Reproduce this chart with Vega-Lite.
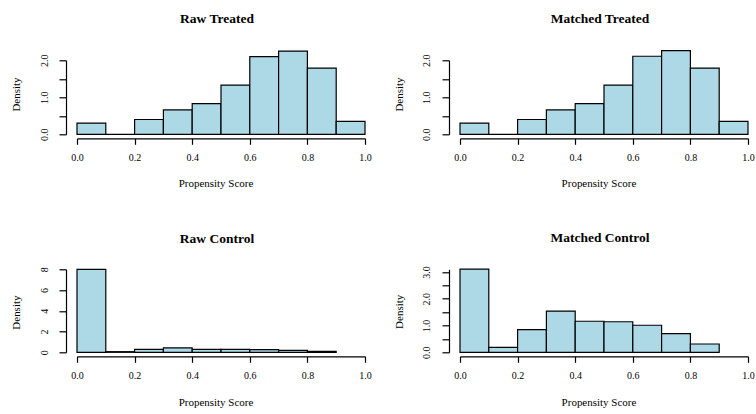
{
  "$schema": "https://vega.github.io/schema/vega-lite/v6.json",
  "background": "white",
  "padding": {"left": 10, "top": 11.3, "right": 5, "bottom": 5},
  "bounds": "flush",
  "spacing": {"row": 135, "column": 95},
  "columns": 2,
  "config": {
    "view": {"stroke": null},
    "font": "Liberation Serif",
    "axis": {
      "domainColor": "black", "tickColor": "black", "labelColor": "black", "titleColor": "black",
      "labelFont": "Liberation Serif", "titleFont": "Liberation Serif",
      "labelFontSize": 10, "titleFontSize": 11, "titleFontWeight": "normal",
      "grid": false, "labelOverlap": false, "labelFlush": false,
      "domainWidth": 1.2, "tickWidth": 1.2
    },
    "title": {"font": "Liberation Serif", "fontSize": 13.5, "fontWeight": "bold", "color": "black", "dx": -4},
    "rect": {"fill": "#ADD8E6", "stroke": "black", "strokeWidth": 1.2}
  },
  "datasets": {
    "rawTreated": [
      {"bin_start": 0.0, "bin_end": 0.1, "density": 0.30},
      {"bin_start": 0.1, "bin_end": 0.2, "density": 0.0},
      {"bin_start": 0.2, "bin_end": 0.3, "density": 0.40},
      {"bin_start": 0.3, "bin_end": 0.4, "density": 0.66},
      {"bin_start": 0.4, "bin_end": 0.5, "density": 0.83},
      {"bin_start": 0.5, "bin_end": 0.6, "density": 1.33},
      {"bin_start": 0.6, "bin_end": 0.7, "density": 2.10},
      {"bin_start": 0.7, "bin_end": 0.8, "density": 2.25},
      {"bin_start": 0.8, "bin_end": 0.9, "density": 1.79},
      {"bin_start": 0.9, "bin_end": 1.0, "density": 0.35}
    ],
    "matchedTreated": [
      {"bin_start": 0.0, "bin_end": 0.1, "density": 0.30},
      {"bin_start": 0.1, "bin_end": 0.2, "density": 0.0},
      {"bin_start": 0.2, "bin_end": 0.3, "density": 0.40},
      {"bin_start": 0.3, "bin_end": 0.4, "density": 0.66},
      {"bin_start": 0.4, "bin_end": 0.5, "density": 0.83},
      {"bin_start": 0.5, "bin_end": 0.6, "density": 1.33},
      {"bin_start": 0.6, "bin_end": 0.7, "density": 2.11},
      {"bin_start": 0.7, "bin_end": 0.8, "density": 2.26},
      {"bin_start": 0.8, "bin_end": 0.9, "density": 1.79},
      {"bin_start": 0.9, "bin_end": 1.0, "density": 0.35}
    ],
    "rawControl": [
      {"bin_start": 0.0, "bin_end": 0.1, "density": 8.0},
      {"bin_start": 0.1, "bin_end": 0.2, "density": 0.06},
      {"bin_start": 0.2, "bin_end": 0.3, "density": 0.29},
      {"bin_start": 0.3, "bin_end": 0.4, "density": 0.42},
      {"bin_start": 0.4, "bin_end": 0.5, "density": 0.29},
      {"bin_start": 0.5, "bin_end": 0.6, "density": 0.29},
      {"bin_start": 0.6, "bin_end": 0.7, "density": 0.26},
      {"bin_start": 0.7, "bin_end": 0.8, "density": 0.19},
      {"bin_start": 0.8, "bin_end": 0.9, "density": 0.08}
    ],
    "matchedControl": [
      {"bin_start": 0.0, "bin_end": 0.1, "density": 3.11},
      {"bin_start": 0.1, "bin_end": 0.2, "density": 0.185},
      {"bin_start": 0.2, "bin_end": 0.3, "density": 0.85},
      {"bin_start": 0.3, "bin_end": 0.4, "density": 1.54},
      {"bin_start": 0.4, "bin_end": 0.5, "density": 1.16},
      {"bin_start": 0.5, "bin_end": 0.6, "density": 1.14},
      {"bin_start": 0.6, "bin_end": 0.7, "density": 1.01},
      {"bin_start": 0.7, "bin_end": 0.8, "density": 0.70},
      {"bin_start": 0.8, "bin_end": 0.9, "density": 0.31}
    ]
  },
  "concat": [
    {
      "data": {"name": "rawTreated"},
      "title": {"text": "Raw Treated", "offset": 25},
      "width": 288, "height": 74,
      "mark": "rect",
      "encoding": {
        "x": {"field": "bin_start", "type": "quantitative", "scale": {"domain": [0, 1], "nice": false, "zero": false},
              "axis": {"title": "Propensity Score", "offset": 4, "tickSize": 6, "labelPadding": 8, "values": [0, 0.2, 0.4, 0.6, 0.8, 1], "format": ".1f", "titleX": 138.5, "titleY": 45, "titleBaseline": "middle", "titleAlign": "center"}},
        "x2": {"field": "bin_end"},
        "y": {"field": "density", "type": "quantitative", "scale": {"domain": [0, 2], "nice": false},
              "axis": {"title": "Density", "offset": 11, "tickSize": 7, "labelAngle": 270, "labelAlign": "center", "labelBaseline": "alphabetic", "labelPadding": 12, "titleX": -49.3, "titleY": 33.7, "titleBaseline": "middle", "titleAngle": 270, "titleAlign": "center", "values": [0, 0.5, 1, 1.5, 2], "labelExpr": "datum.value % 1 == 0 ? format(datum.value, '.1f') : ''"}},
        "y2": {"datum": 0}
      }
    },
    {
      "data": {"name": "matchedTreated"},
      "title": {"text": "Matched Treated", "offset": 25},
      "width": 288, "height": 74,
      "mark": "rect",
      "encoding": {
        "x": {"field": "bin_start", "type": "quantitative", "scale": {"domain": [0, 1], "nice": false, "zero": false},
              "axis": {"title": "Propensity Score", "offset": 4, "tickSize": 6, "labelPadding": 8, "values": [0, 0.2, 0.4, 0.6, 0.8, 1], "format": ".1f", "titleX": 138.5, "titleY": 45, "titleBaseline": "middle", "titleAlign": "center"}},
        "x2": {"field": "bin_end"},
        "y": {"field": "density", "type": "quantitative", "scale": {"domain": [0, 2], "nice": false},
              "axis": {"title": "Density", "offset": 11, "tickSize": 7, "labelAngle": 270, "labelAlign": "center", "labelBaseline": "alphabetic", "labelPadding": 12, "titleX": -49.3, "titleY": 33.7, "titleBaseline": "middle", "titleAngle": 270, "titleAlign": "center", "values": [0, 0.5, 1, 1.5, 2], "labelExpr": "datum.value % 1 == 0 ? format(datum.value, '.1f') : ''"}},
        "y2": {"datum": 0}
      }
    },
    {
      "data": {"name": "rawControl"},
      "title": {"text": "Raw Control", "offset": 21.7},
      "width": 288, "height": 83,
      "mark": "rect",
      "encoding": {
        "x": {"field": "bin_start", "type": "quantitative", "scale": {"domain": [0, 1], "nice": false, "zero": false},
              "axis": {"title": "Propensity Score", "offset": 4, "tickSize": 6, "labelPadding": 8, "values": [0, 0.2, 0.4, 0.6, 0.8, 1], "format": ".1f", "titleX": 138.5, "titleY": 46, "titleBaseline": "middle", "titleAlign": "center"}},
        "x2": {"field": "bin_end"},
        "y": {"field": "density", "type": "quantitative", "scale": {"domain": [0, 8], "nice": false},
              "axis": {"title": "Density", "offset": 11, "tickSize": 7, "labelAngle": 270, "labelAlign": "center", "labelBaseline": "alphabetic", "labelPadding": 12, "titleX": -49.3, "titleY": 42.8, "titleBaseline": "middle", "titleAngle": 270, "titleAlign": "center", "values": [0, 2, 4, 6, 8], "format": "d"}},
        "y2": {"datum": 0}
      }
    },
    {
      "data": {"name": "matchedControl"},
      "title": {"text": "Matched Control", "offset": 21.7},
      "width": 288, "height": 83,
      "mark": "rect",
      "encoding": {
        "x": {"field": "bin_start", "type": "quantitative", "scale": {"domain": [0, 1], "nice": false, "zero": false},
              "axis": {"title": "Propensity Score", "offset": 4, "tickSize": 6, "labelPadding": 8, "values": [0, 0.2, 0.4, 0.6, 0.8, 1], "format": ".1f", "titleX": 138.5, "titleY": 46, "titleBaseline": "middle", "titleAlign": "center"}},
        "x2": {"field": "bin_end"},
        "y": {"field": "density", "type": "quantitative", "scale": {"domain": [0, 3.1], "nice": false},
              "axis": {"title": "Density", "offset": 11, "tickSize": 7, "labelAngle": 270, "labelAlign": "center", "labelBaseline": "alphabetic", "labelPadding": 12, "titleX": -49.3, "titleY": 42, "titleBaseline": "middle", "titleAngle": 270, "titleAlign": "center", "values": [0, 0.5, 1, 1.5, 2, 2.5, 3], "labelExpr": "datum.value % 1 == 0 ? format(datum.value, '.1f') : ''"}},
        "y2": {"datum": 0}
      }
    }
  ]
}
